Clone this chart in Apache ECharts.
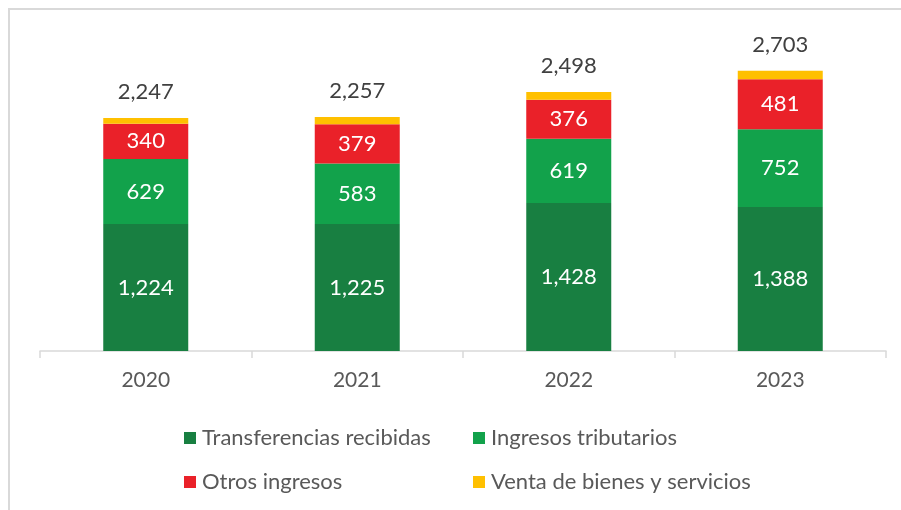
<!DOCTYPE html>
<html>
<head>
<meta charset="utf-8">
<script src="https://cdn.jsdelivr.net/npm/echarts@6/dist/echarts.min.js"></script>
<style>
  html, body { margin: 0; padding: 0; background: #fff; }
  #chart { width: 901px; height: 510px; }
</style>
</head>
<body>
<div id="chart"></div>
<script>
// datos
const years = ['2020', '2021', '2022', '2023'];
const transferencias = [1224, 1225, 1428, 1388];
const tributarios = [629, 583, 619, 752];
const otros = [340, 379, 376, 481];
const venta = [54, 70, 75, 82];

const FONT = 'Lato';
const fmt = v => v.toLocaleString('en-US');

const chart = echarts.init(document.getElementById('chart'));

// etiqueta blanca dentro de cada segmento
const innerLabel = {
  show: true,
  color: '#fff',
  fontFamily: FONT,
  fontSize: 22,
  formatter: p => fmt(p.value)
};

function totalOf(i) {
  return transferencias[i] + tributarios[i] + otros[i] + venta[i];
}

const legendText = { color: '#595959', fontFamily: FONT, fontSize: 22, padding: [0, 0, 0, 1] };

const option = {
  animation: false,
  backgroundColor: '#fff',
  graphic: [{
    type: 'rect',
    shape: { x: 9, y: 9, width: 900, height: 510 },
    style: { fill: 'none', stroke: '#d9d9d9', lineWidth: 2 },
    silent: true
  }],
  grid: {
    left: 40,
    right: 15,
    top: 40,
    bottom: 159
  },
  legend: [
    {
      orient: 'vertical',
      left: 179,
      top: 422,
      icon: 'rect',
      itemWidth: 12,
      itemHeight: 12,
      itemGap: 22,
      textStyle: legendText,
      data: ['Transferencias recibidas', 'Otros ingresos']
    },
    {
      orient: 'vertical',
      left: 468,
      top: 422,
      icon: 'rect',
      itemWidth: 12,
      itemHeight: 12,
      itemGap: 22,
      textStyle: legendText,
      data: ['Ingresos tributarios', 'Venta de bienes y servicios']
    }
  ],
  xAxis: {
    type: 'category',
    data: years,
    axisLine: { lineStyle: { color: '#d9d9d9', width: 1.5 } },
    axisTick: { show: true, length: 7, lineStyle: { color: '#d9d9d9', width: 1.5 } },
    axisLabel: { color: '#595959', fontFamily: FONT, fontSize: 21, margin: 19 }
  },
  yAxis: {
    type: 'value',
    min: 0,
    max: 3000,
    show: false,
    splitLine: { show: false }
  },
  series: [
    {
      name: 'Transferencias recibidas',
      type: 'bar',
      stack: 'total',
      barWidth: 85,
      itemStyle: { color: '#187f41' },
      label: innerLabel,
      data: transferencias
    },
    {
      name: 'Ingresos tributarios',
      type: 'bar',
      stack: 'total',
      itemStyle: { color: '#12a24b' },
      label: innerLabel,
      data: tributarios
    },
    {
      name: 'Otros ingresos',
      type: 'bar',
      stack: 'total',
      itemStyle: { color: '#ea2129' },
      label: innerLabel,
      data: otros
    },
    {
      name: 'Venta de bienes y servicios',
      type: 'bar',
      stack: 'total',
      itemStyle: { color: '#ffc000' },
      label: {
        show: true,
        position: 'top',
        distance: 15,
        color: '#404040',
        fontFamily: FONT,
        fontSize: 22,
        formatter: p => fmt(totalOf(p.dataIndex))
      },
      data: venta
    }
  ]
};

chart.setOption(option);
</script>
</body>
</html>
